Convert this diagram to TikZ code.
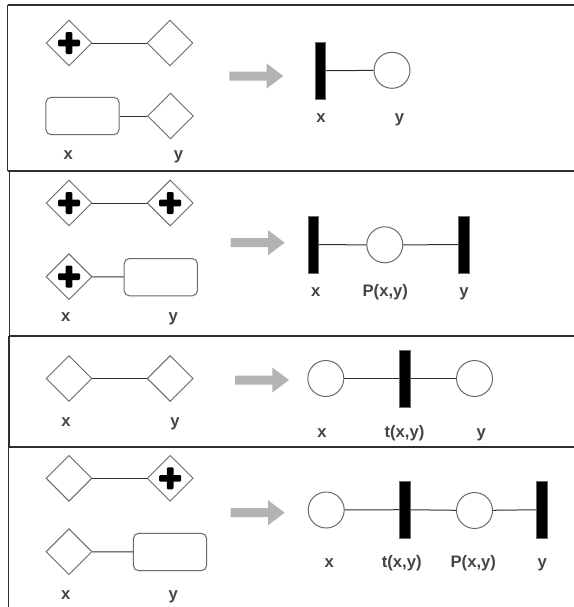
\documentclass[tikz,border=0pt]{standalone}
\usepackage{fontspec}
\setmainfont{Liberation Sans}
\usetikzlibrary{shapes.geometric}
\definecolor{txt}{HTML}{444444}
\definecolor{edgec}{HTML}{6A6A6A}
\definecolor{arrc}{HTML}{B3B3B3}
\definecolor{framec}{HTML}{2E2E2E}
\definecolor{linkc}{HTML}{303030}
\begin{document}
\begin{tikzpicture}[x=0.75pt,y=-0.75pt,
  gw/.style={diamond, draw=edgec, fill=white, line width=0.7pt, minimum width=34.5pt, minimum height=34.5pt, inner sep=0pt, aspect=1},
  gwp/.style={gw, path picture={
      \fill[black, rounded corners=0.8pt] ([shift={(-11,-3.3)}]path picture bounding box.center) rectangle ++(22,6.6);
      \fill[black, rounded corners=0.8pt] ([shift={(-3.3,-11)}]path picture bounding box.center) rectangle ++(6.6,22);}},
  task/.style={rectangle, rounded corners=4pt, draw=edgec, fill=white, line width=0.75pt, minimum width=55pt, minimum height=28pt, inner sep=0pt},
  trans/.style={rectangle, draw=edgec, fill=black, line width=0.5pt, minimum width=7.8pt, minimum height=42.5pt, inner sep=0pt},
  place/.style={circle, draw=edgec, fill=white, line width=0.75pt, minimum size=27pt, inner sep=0pt},
  link/.style={draw=linkc, line width=0.75pt},
  lbl/.style={font=\bfseries\fontsize{12.5}{14}\selectfont, text=txt, anchor=base, inner sep=0pt},
  framel/.style={draw=framec, line width=1.1pt},
  bigarrow/.style={fill=arrc}]
\useasboundingbox (0,0) rectangle (574,607);

% frames
\draw[framel] (8,5) -- (574,5);
\draw[framel] (7.5,5) -- (7.5,171);
\draw[draw=framec, line width=1.9pt] (7.5,171) -- (574,171);
\draw[framel] (9.5,171) -- (9.5,336);
\draw[framel] (9,336) -- (574,336);
\draw[framel] (9,336) -- (9,447);
\draw[framel] (8.5,447) -- (574,447);
\draw[framel] (8.5,447) -- (8.5,607);

% gray arrows
\newcommand{\grayarrow}[2]{\fill[bigarrow] (#1,#2-4.5) -- ++(37.4,0) -- ++(0,-8) -- (#1+54,#2) -- (#1+37.4,#2+12.5) -- ++(0,-8) -- (#1,#2+4.5) -- cycle;}
\grayarrow{229.3}{76}
\grayarrow{230.7}{242.7}
\grayarrow{235}{380}
\grayarrow{230.7}{512.7}

% ---------- panel 1 ----------
\node[gwp] (a1) at (69,43) {};
\node[gw] (a2) at (170,43) {};
\draw[link] (a1) -- (a2);
\node[task] (a3) at (82.5,116) {};
\node[gw] (a4) at (170.5,116) {};
\draw[link] (a3) -- (a4);
\node[lbl] (ax) at (68.3,159.5) {x};
\node[lbl] (ay) at (178.5,159.5) {y};
\node[trans] (b1) at (320.5,70.7) {};
\node[place] (b2) at (392,70.3) {};
\draw[link] (b1) -- (b2);
\node[lbl] (bx) at (321,122) {x};
\node[lbl] (by) at (399.5,122) {y};

% ---------- panel 2 ----------
\node[gwp] (c1) at (69,203) {};
\node[gwp] (c2) at (170.2,203) {};
\draw[link] (c1) -- (c2);
\node[gwp] (c3) at (69,276.7) {};
\node[task] (c4) at (160.8,277.2) {};
\draw[link] (c3) -- (c4);
\node[lbl] (cx) at (65.7,321.5) {x};
\node[lbl] (cy) at (173.3,321.5) {y};
\node[trans] (d1) at (313.3,244.7) {};
\node[place] (d2) at (384.8,244.8) {};
\node[trans] (d3) at (464,244.7) {};
\draw[link] (d1) -- (d2);
\draw[link] (d2) -- (d3);
\node[lbl] (dx) at (315.7,296.5) {x};
\node[lbl] (dp) at (385.3,296.5) {P(x,y)};
\node[lbl] (dy) at (464,296.5) {y};

% ---------- panel 3 ----------
\node[gw] (e1) at (69,378.5) {};
\node[gw] (e2) at (170.2,378.5) {};
\draw[link] (e1) -- (e2);
\node[lbl] (ex) at (66,426.5) {x};
\node[lbl] (ey) at (175,426.5) {y};
\node[place] (f1) at (325.8,378.5) {};
\node[trans] (f2) at (405,378.5) {};
\node[place] (f3) at (474.5,378.5) {};
\draw[link] (f1) -- (f2);
\draw[link] (f2) -- (f3);
\node[lbl] (fx) at (322,437) {x};
\node[lbl] (ft) at (404.5,437) {t(x,y)};
\node[lbl] (fy) at (481.3,437) {y};

% ---------- panel 4 ----------
\node[gw] (g1) at (69,478.3) {};
\node[gwp] (g2) at (170.2,478.3) {};
\draw[link] (g1) -- (g2);
\node[gw] (g3) at (69,551.7) {};
\node[task] (g4) at (170,552) {};
\draw[link] (g3) -- (g4);
\node[lbl] (gx) at (65.7,599) {x};
\node[lbl] (gy) at (173.3,599) {y};
\node[place] (h1) at (326.2,510) {};
\node[trans] (h2) at (405,509.7) {};
\node[place] (h3) at (474.5,510.5) {};
\node[trans] (h4) at (541.7,509.7) {};
\draw[link] (h1) -- (h2);
\draw[link] (h2) -- (h3);
\draw[link] (h3) -- (h4);
\node[lbl] (hx) at (329.3,567) {x};
\node[lbl] (ht) at (401.7,567) {t(x,y)};
\node[lbl] (hp) at (473.3,567) {P(x,y)};
\node[lbl] (hy) at (542.3,567) {y};
\end{tikzpicture}
\end{document}
